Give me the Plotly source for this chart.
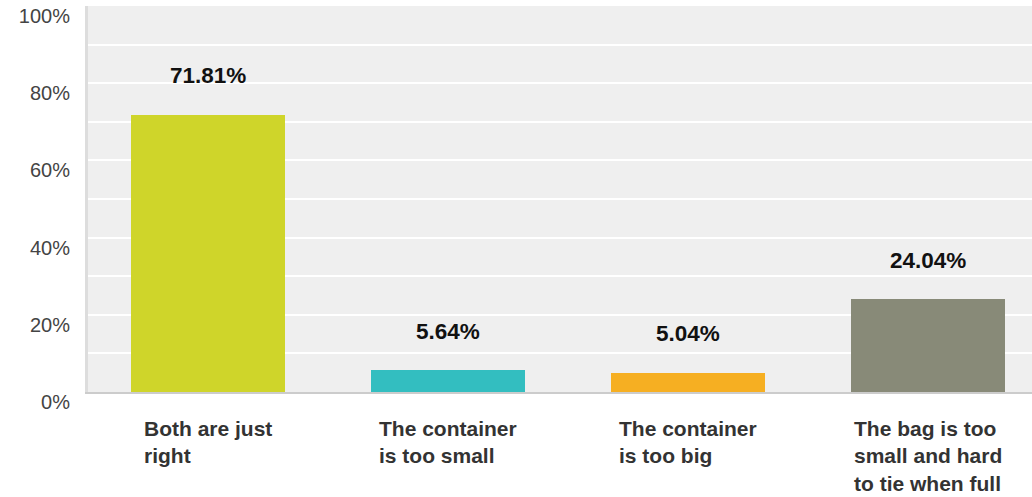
import plotly.graph_objects as go

categories = ["Both are just right", "The container is too small", "The container is too big",
              "The bag is too small and hard to tie when full"]
label_lines = ["Both are just<br>right", "The container<br>is too small", "The container<br>is too big",
               "The bag is too<br>small and hard<br>to tie when full"]
values = [71.81, 5.64, 5.04, 24.04]
colors = ["#CFD52A", "#33BEC0", "#F6AF22", "#888A78"]
y_ticks = [0, 20, 40, 60, 80, 100]
y_tick_text = ["0%", "20%", "40%", "60%", "80%", "100%"]

FONT = "Arial, Liberation Sans, sans-serif"

fig = go.Figure()
fig.add_trace(go.Bar(x=categories, y=values, marker=dict(color=colors, line=dict(width=0)),
                     width=0.642, hoverinfo="skip"))

for c, v in zip(categories, values):
    fig.add_annotation(x=c, y=v, xref="x", yref="y", text=f"<b>{v:.2f}%</b>", showarrow=False,
                       yanchor="middle", yshift=39, font=dict(family=FONT, size=22.5, color="#111111"))

for c, t in zip(categories, label_lines):
    fig.add_annotation(x=c, y=0, xref="x", yref="paper", text=f"<b>{t}</b>", showarrow=False,
                       yanchor="top", xanchor="center", align="left", yshift=-23,
                       font=dict(family=FONT, size=21, color="#333333"))

fig.update_layout(
    width=1032, height=497,
    margin=dict(l=88, r=0, t=6, b=105, autoexpand=False),
    paper_bgcolor="white", plot_bgcolor="#EFEFEF",
    showlegend=False, bargap=0,
    font=dict(family=FONT),
)
fig.update_xaxes(range=[-0.5, 3.433], showticklabels=False, ticks="", showgrid=False,
                 showline=True, linecolor="#CCCCCC", linewidth=2, fixedrange=True)
fig.update_yaxes(range=[0, 100], tickvals=y_ticks, ticktext=y_tick_text, showgrid=True,
                 gridcolor="white", gridwidth=2, zeroline=False,
                 minor=dict(dtick=10, showgrid=True, gridcolor="white", gridwidth=2),
                 showline=True, linecolor="#DDDDDD", linewidth=3, ticks="",
                 ticklabelshift=10, ticklabelstandoff=11,
                 tickfont=dict(family=FONT, size=20, color="#444444"), fixedrange=True)

fig.write_html("out.html", config={"displayModeBar": False},
               post_script="document.body.style.margin='0';document.body.style.overflow='hidden';")
